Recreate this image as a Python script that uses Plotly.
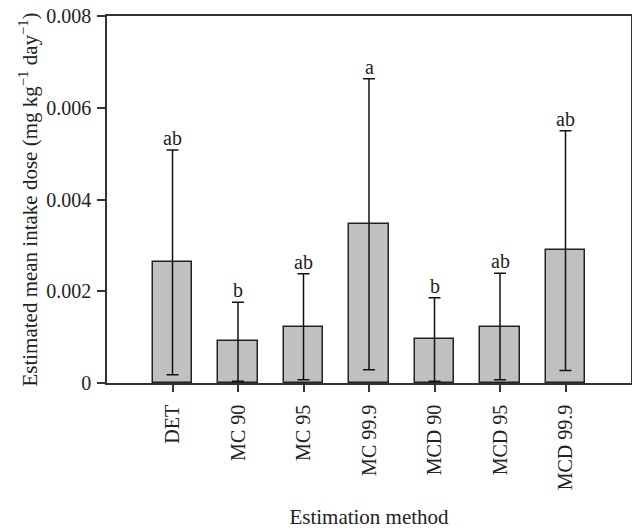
import plotly.graph_objects as go

categories = ["DET", "MC 90", "MC 95", "MC 99.9", "MCD 90", "MCD 95", "MCD 99.9"]
means = [0.00263, 0.00091, 0.00123, 0.00346, 0.00096, 0.00123, 0.00289]
err_upper = [0.00508, 0.00176, 0.00238, 0.00663, 0.00186, 0.00239, 0.00550]
err_lower = [0.00018, 0.00004, 0.00007, 0.00029, 0.00004, 0.00007, 0.00027]
letters = ["ab", "b", "ab", "a", "b", "ab", "ab"]
y_tickvals = [0, 0.002, 0.004, 0.006, 0.008]
y_ticktext = ["0", "0.002", "0.004", "0.006", "0.008"]

xpos = list(range(1, len(categories) + 1))
FONT = "Liberation Serif"
AX = "#333333"

fig = go.Figure()
fig.add_trace(go.Bar(
    x=xpos, y=means, width=0.61,
    marker=dict(color="#c0c0c0", line=dict(color="#222222", width=1.5)),
    error_y=dict(type="data", symmetric=False,
                 array=[u - m for u, m in zip(err_upper, means)],
                 arrayminus=[m - l for m, l in zip(means, err_lower)],
                 color="#111111", thickness=1.5, width=6),
    showlegend=False,
))

for x, u, t in zip(xpos, err_upper, letters):
    fig.add_annotation(x=x, y=u, text=t, showarrow=False, yanchor="bottom",
                       yshift=-1, font=dict(family=FONT, size=20, color="#222222"))

fig.update_layout(
    width=632, height=529,
    margin=dict(l=107, r=1, t=16, b=146),
    paper_bgcolor="white", plot_bgcolor="white",
    font=dict(family=FONT, size=20, color="#222222"),
    bargap=0,
)
fig.update_xaxes(
    range=[0, 8], tickmode="array", tickvals=xpos, ticktext=categories,
    tickangle=-90, ticks="outside", ticklen=7, tickwidth=1.5, tickcolor=AX,
    ticklabelstandoff=5, automargin=False, tickfont=dict(size=20),
    ticklabeloverflow="allow",
    showline=True, linecolor=AX, linewidth=1.5, mirror=True, showgrid=False,
    zeroline=False,
    title=dict(text="Estimation method", standoff=20, font=dict(size=21)),
)
fig.update_yaxes(
    range=[0, 0.008], tickmode="array", tickvals=y_tickvals, ticktext=y_ticktext,
    ticks="outside", ticklen=8, tickwidth=1.5, tickcolor=AX,
    ticklabelstandoff=2, automargin=False, tickfont=dict(size=20),
    ticklabeloverflow="allow",
    showline=True, linecolor=AX, linewidth=1.5, mirror=True, showgrid=False,
    zeroline=False,
    title=dict(text="Estimated mean intake dose (mg kg<sup>\u22121</sup> day<sup>\u22121</sup>)",
               standoff=3, font=dict(size=21)),
)

fig.write_html("out.html", config={"displayModeBar": False},
               post_script="document.body.style.margin='0';")
